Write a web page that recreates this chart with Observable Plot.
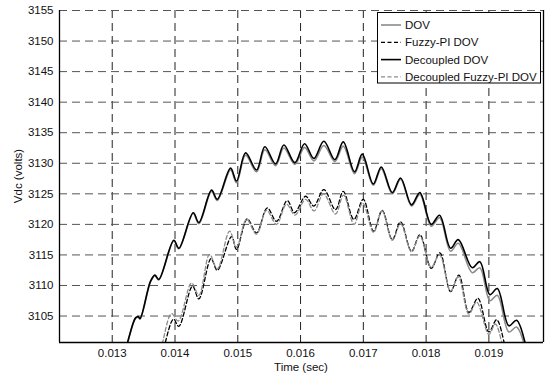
<!DOCTYPE html>
<html>
<head>
<meta charset="utf-8">
<script src="https://cdn.jsdelivr.net/npm/d3@7"></script>
<script src="https://cdn.jsdelivr.net/npm/@observablehq/plot@0.6"></script>
<style>
  html, body { margin: 0; padding: 0; background: #fff; }
  #chart { width: 545px; height: 378px; }
</style>
</head>
<body>
<div id="chart"></div>
<script>
// ---- data ----
const seriesNames = ["DOV", "Fuzzy-PI DOV", "Decoupled DOV", "Decoupled Fuzzy-PI DOV"];
const xTicks = [0.013, 0.014, 0.015, 0.016, 0.017, 0.018, 0.019];
const yTicks = [3105, 3110, 3115, 3120, 3125, 3130, 3135, 3140, 3145, 3150, 3155];
const xDomain = [0.01216, 0.01987];
const yDomain = [3100.67, 3155];

// time stamps shared by the two solid curves
const solidT = [0.01305, 0.013239, 0.013371, 0.013414, 0.013443, 0.01361, 0.013679, 0.013742,
  0.013981, 0.014061, 0.014290, 0.014380, 0.014582, 0.014673, 0.014885, 0.014980,
  0.015124, 0.015299, 0.015431, 0.015602, 0.015734, 0.015909, 0.016064, 0.016212,
  0.016371, 0.016546, 0.016680, 0.016860, 0.016983, 0.017158, 0.017286, 0.017461,
  0.017593, 0.017768, 0.017901, 0.018082, 0.018214, 0.018390, 0.018512, 0.018735,
  0.018856, 0.019016, 0.019134, 0.019318, 0.019441, 0.019590, 0.019680];
const decoupledDOV = [3094, 3100.5, 3104.7, 3104.9, 3104.6, 3110.7, 3111.7, 3111.0,
  3117.4, 3116.1, 3121.9, 3120.3, 3125.6, 3124.1, 3129.2, 3127.1,
  3131.7, 3128.9, 3132.7, 3129.9, 3133.0, 3130.1, 3133.2, 3130.8,
  3133.6, 3130.6, 3133.5, 3128.6, 3131.5, 3126.6, 3129.4, 3125.2,
  3127.6, 3123.2, 3125.2, 3120.0, 3121.5, 3116.1, 3117.5, 3112.9,
  3113.9, 3108.5, 3109.5, 3103.4, 3104.3, 3100.2, 3097.0];
const dov = [3094, 3100.5, 3104.6, 3104.8, 3104.5, 3110.6, 3111.6, 3110.9,
  3117.3, 3116.0, 3121.8, 3120.1, 3125.4, 3123.9, 3128.9, 3126.8,
  3131.3, 3128.6, 3132.2, 3129.6, 3132.5, 3129.8, 3132.6, 3130.4,
  3132.9, 3130.3, 3132.8, 3128.3, 3131.0, 3126.4, 3129.1, 3125.0,
  3127.4, 3123.0, 3124.9, 3119.7, 3121.1, 3115.6, 3116.9, 3112.1,
  3112.9, 3107.5, 3108.4, 3102.4, 3103.2, 3099.5, 3096.5];

const fuzzyT = [0.013785, 0.013841, 0.013977, 0.014061, 0.014279, 0.014380, 0.014574, 0.014673,
  0.014901, 0.014980, 0.015151, 0.015299, 0.015469, 0.015617, 0.015788, 0.015904,
  0.016080, 0.016212, 0.016371, 0.016557, 0.016680, 0.016849, 0.016999, 0.017163,
  0.017301, 0.017461, 0.017593, 0.017768, 0.017901, 0.018082, 0.018219, 0.018390,
  0.018522, 0.018681, 0.018825, 0.019000, 0.019123, 0.019250, 0.019314];
const fuzzyDOV = [3097.6, 3100.5, 3104.5, 3103.3, 3109.9, 3107.8, 3114.4, 3112.5,
  3118.0, 3115.9, 3120.9, 3118.6, 3122.7, 3120.5, 3123.9, 3121.9,
  3124.6, 3123.0, 3125.7, 3122.4, 3125.4, 3120.8, 3124.1, 3118.9,
  3122.3, 3117.5, 3120.4, 3115.6, 3118.3, 3112.8, 3115.35, 3109.0,
  3111.7, 3105.6, 3107.9, 3102.4, 3104.4, 3100.4, 3097.6];

const decFuzzyT = [0.013739, 0.013797, 0.013945, 0.014051, 0.014263, 0.014380, 0.014550, 0.014673,
  0.014869, 0.014980, 0.015140, 0.015299, 0.015458, 0.015617, 0.015777, 0.015912,
  0.016080, 0.016215, 0.016366, 0.016557, 0.016685, 0.016852, 0.016988, 0.017163,
  0.017298, 0.017461, 0.017593, 0.017768, 0.017901, 0.018080, 0.018214, 0.018390,
  0.018512, 0.018681, 0.018804, 0.019000, 0.019102, 0.019213, 0.019282];
const decFuzzyDOV = [3098.4, 3100.5, 3105.4, 3104.2, 3110.4, 3108.4, 3115.1, 3112.7,
  3118.9, 3116.3, 3120.8, 3118.4, 3122.3, 3120.0, 3123.3, 3121.5,
  3124.1, 3122.2, 3125.0, 3121.7, 3124.8, 3120.0, 3123.5, 3118.7,
  3122.2, 3117.4, 3120.1, 3115.5, 3118.1, 3113.0, 3115.0, 3109.1,
  3111.4, 3105.3, 3107.3, 3102.0, 3103.7, 3100.4, 3097.6];

// ---- styles ----
const styles = {
  "DOV": {stroke: "#8c8c8c", strokeWidth: 1.6, dash: null},
  "Fuzzy-PI DOV": {stroke: "#000", strokeWidth: 1.3, dash: "4,2.5"},
  "Decoupled DOV": {stroke: "#000", strokeWidth: 1.6, dash: null},
  "Decoupled Fuzzy-PI DOV": {stroke: "#8c8c8c", strokeWidth: 1.3, dash: "4,2.5"}
};

const rows = (series, ts, vs) => ts.map((t, i) => ({series, t, v: vs[i]}));
const data = {
  "DOV": rows("DOV", solidT, dov),
  "Fuzzy-PI DOV": rows("Fuzzy-PI DOV", fuzzyT, fuzzyDOV),
  "Decoupled DOV": rows("Decoupled DOV", solidT, decoupledDOV),
  "Decoupled Fuzzy-PI DOV": rows("Decoupled Fuzzy-PI DOV", decFuzzyT, decFuzzyDOV)
};

const font = "'Liberation Sans', Arial, Helvetica, sans-serif";
const fs = 11.5;

const lineMarks = seriesNames.map(name => Plot.line(data[name], {
  x: "t", y: "v", curve: "catmull-rom", clip: true,
  stroke: styles[name].stroke, strokeWidth: styles[name].strokeWidth,
  strokeDasharray: styles[name].dash ?? undefined
}));

const plot = Plot.plot({
  width: 545,
  height: 378,
  marginLeft: 59,
  marginRight: 2,
  marginTop: 10,
  marginBottom: 36,
  style: {fontFamily: font, fontSize: fs + "px", color: "#111", background: "#fff"},
  x: {domain: xDomain},
  y: {domain: yDomain},
  marks: [
    Plot.gridX(xTicks, {stroke: "#222", strokeOpacity: 1, strokeDasharray: "8,5"}),
    Plot.gridY(yTicks, {stroke: "#555", strokeOpacity: 1, strokeDasharray: "8,5"}),
    ...lineMarks,
    Plot.ruleY([yDomain[0]], {stroke: "#000", strokeWidth: 1.3}),
    Plot.ruleX([xDomain[0], xDomain[1]], {stroke: "#000", strokeWidth: 1.3}),
    Plot.axisX(xTicks, {tickSize: 0, tickPadding: 6, tickFormat: d3.format(".3f"), label: null, fontSize: fs}),
    Plot.axisY(yTicks, {tickSize: 0, tickPadding: 6, tickFormat: d3.format("d"), label: null, fontSize: fs})
  ]
});

document.getElementById("chart").appendChild(plot);

// axis titles and legend
const svg = d3.select(plot);
svg.append("text").attr("x", 301).attr("y", 371).attr("text-anchor", "middle")
  .attr("font-family", font).attr("font-size", fs).attr("fill", "#111").text("Time (sec)");
svg.append("text").attr("transform", "translate(21.5,176) rotate(-90)").attr("text-anchor", "middle")
  .attr("font-family", font).attr("font-size", fs).attr("fill", "#111").text("Vdc (volts)");

const lg = svg.append("g").attr("text-anchor", "start");
lg.append("rect").attr("x", 377.5).attr("y", 12.5).attr("width", 163).attr("height", 70.5)
  .attr("fill", "#fff").attr("stroke", "#000").attr("stroke-width", 1);
seriesNames.forEach((name, i) => {
  const y = 25 + i * 17.3;
  lg.append("line").attr("x1", 381).attr("x2", 401).attr("y1", y).attr("y2", y)
    .attr("stroke", styles[name].stroke).attr("stroke-width", styles[name].strokeWidth)
    .attr("stroke-dasharray", styles[name].dash);
  lg.append("text").attr("x", 405).attr("y", y).attr("dy", "0.35em").attr("text-anchor", "start")
    .attr("font-family", font).attr("font-size", fs).attr("fill", "#111").text(name);
});
</script>
</body>
</html>
